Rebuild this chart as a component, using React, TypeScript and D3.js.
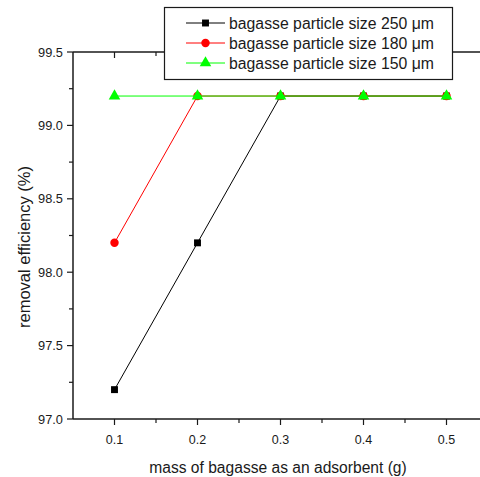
import * as d3 from 'd3';
import { useEffect, useRef } from 'react';

// data
const masses = [0.1, 0.2, 0.3, 0.4, 0.5];
const size250 = [97.2, 98.2, 99.2, 99.2, 99.2];
const size180 = [98.2, 99.2, 99.2, 99.2, 99.2];
const size150 = [99.2, 99.2, 99.2, 99.2, 99.2];
const seriesNames = [
    'bagasse particle size 250 μm',
    'bagasse particle size 180 μm',
    'bagasse particle size 150 μm',
];
const xTicks = [0.1, 0.2, 0.3, 0.4, 0.5];
const yTicks = [97.0, 97.5, 98.0, 98.5, 99.0, 99.5];

const App = () => {
    const ref = useRef<SVGSVGElement>(null);

    useEffect(() => {
        const width = 480;
        const font = 'Liberation Sans, Arial, sans-serif';
        const ink = '#1a1a1a';

        const svg = d3.select(ref.current);
        svg.selectAll('*').remove();

        // plot area, right side runs past the picture edge
        const x = d3.scaleLinear().domain([0.05, 0.55]).range([73, 488]);
        const y = d3.scaleLinear().domain([97.0, 99.5]).range([419, 52]);

        const g = svg.append('g');

        // axis lines
        g.append('line').attr('x1', 73).attr('x2', width).attr('y1', y(97)).attr('y2', y(97))
            .attr('stroke', ink).attr('stroke-width', 1.5);
        g.append('line').attr('x1', 73).attr('x2', width).attr('y1', y(99.5)).attr('y2', y(99.5))
            .attr('stroke', ink).attr('stroke-width', 1.5);
        g.append('line').attr('x1', x(0.05)).attr('x2', x(0.05)).attr('y1', y(97)).attr('y2', y(99.5))
            .attr('stroke', ink).attr('stroke-width', 1.5);

        // x ticks: majors and minors at the half steps
        const xMinor = d3.range(0.15, 0.55, 0.1);
        xTicks.forEach(t => {
            g.append('line').attr('x1', x(t)).attr('x2', x(t)).attr('y1', y(97)).attr('y2', y(97) + 6)
                .attr('stroke', ink).attr('stroke-width', 1.2);
            g.append('line').attr('x1', x(t)).attr('x2', x(t)).attr('y1', y(99.5)).attr('y2', y(99.5) + 6)
                .attr('stroke', ink).attr('stroke-width', 1.2);
            g.append('text').attr('x', x(t)).attr('y', y(97) + 25)
                .attr('text-anchor', 'middle').attr('font-family', font).attr('font-size', 12.5)
                .attr('fill', ink).text(d3.format('.1f')(t));
        });
        xMinor.forEach(t => {
            g.append('line').attr('x1', x(t)).attr('x2', x(t)).attr('y1', y(97)).attr('y2', y(97) + 4)
                .attr('stroke', ink).attr('stroke-width', 1.2);
            g.append('line').attr('x1', x(t)).attr('x2', x(t)).attr('y1', y(99.5)).attr('y2', y(99.5) + 4)
                .attr('stroke', ink).attr('stroke-width', 1.2);
        });

        // y ticks
        const yMinor = d3.range(97.25, 99.5, 0.5);
        yTicks.forEach(t => {
            g.append('line').attr('x1', x(0.05) - 6).attr('x2', x(0.05)).attr('y1', y(t)).attr('y2', y(t))
                .attr('stroke', ink).attr('stroke-width', 1.2);
            g.append('text').attr('x', x(0.05) - 10).attr('y', y(t) + 4.5)
                .attr('text-anchor', 'end').attr('font-family', font).attr('font-size', 12.8)
                .attr('fill', ink).text(d3.format('.1f')(t));
        });
        yMinor.forEach(t => {
            g.append('line').attr('x1', x(0.05) - 4).attr('x2', x(0.05)).attr('y1', y(t)).attr('y2', y(t))
                .attr('stroke', ink).attr('stroke-width', 1.2);
        });

        // axis titles
        g.append('text').attr('x', 278).attr('y', 473).attr('text-anchor', 'middle')
            .attr('font-family', font).attr('font-size', 15.6).attr('fill', ink)
            .text('mass of bagasse as an adsorbent (g)');
        g.append('text').attr('transform', `translate(30,247) rotate(-90)`)
            .attr('text-anchor', 'middle').attr('font-family', font).attr('font-size', 16.5).attr('fill', ink)
            .text('removal efficiency (%)');

        const series = [
            { name: seriesNames[0], values: size250, color: '#000000', shape: d3.symbolSquare, size: 48 },
            { name: seriesNames[1], values: size180, color: '#ff0000', shape: d3.symbolCircle, size: 56 },
            { name: seriesNames[2], values: size150, color: '#00ff00', shape: d3.symbolTriangle, size: 58 },
        ];

        const line = d3.line<number>().x((d, i) => x(masses[i])).y(d => y(d));

        series.forEach(s => {
            g.append('path').datum(s.values).attr('d', line).attr('fill', 'none')
                .attr('stroke', s.color).attr('stroke-width', 1);
            g.selectAll(null).data(s.values).enter().append('path')
                .attr('transform', (d, i) => `translate(${x(masses[i])},${y(d)})`)
                .attr('d', d3.symbol().type(s.shape).size(s.size)())
                .attr('fill', s.color);
        });

        // legend
        const lg = g.append('g');
        lg.append('rect').attr('x', 164.5).attr('y', 7.5).attr('width', 288).attr('height', 72)
            .attr('fill', 'white').attr('stroke', ink).attr('stroke-width', 1.2);
        series.forEach((s, i) => {
            const ly = 23 + i * 20;
            lg.append('line').attr('x1', 186).attr('x2', 225).attr('y1', ly).attr('y2', ly)
                .attr('stroke', s.color).attr('stroke-width', 1);
            lg.append('path').attr('transform', `translate(205.5,${ly})`)
                .attr('d', d3.symbol().type(s.shape).size(s.size)())
                .attr('fill', s.color);
            lg.append('text').attr('x', 229).attr('y', ly + 5.5)
                .attr('font-family', font).attr('font-size', 15.8).attr('fill', ink).text(s.name);
        });
    }, []);

    return (
        <svg ref={ref} width={480} height={477}
            style={{ position: 'absolute', left: 0, top: 0, background: 'white' }} />
    );
};

export default App;
